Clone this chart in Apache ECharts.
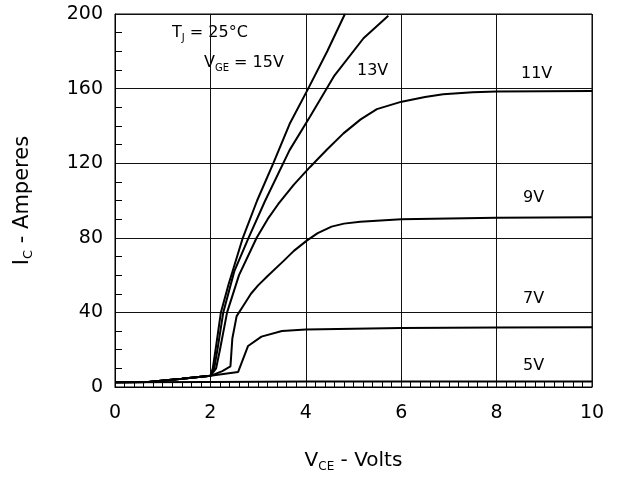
<!DOCTYPE html>
<html><head><meta charset="utf-8">
<script src="https://cdn.jsdelivr.net/npm/echarts@6/dist/echarts.min.js"></script>
<style>html,body{margin:0;padding:0;background:#fff}#c{width:620px;height:482px}</style>
</head><body><div id="c"></div>
<script>
// ---- data (V_CE in volts, I_C in amperes) ----
const xMin = 0, xMax = 10, xStep = 2;
const yMin = 0, yMax = 200, yStep = 40;
const vge5  = [[0,2.5],[2,2.7],[4,2.9],[10,3]];
const vge7  = [[0,2.5],[0.7,2.7],[1.4,4.4],[2,6],[2.58,8],[2.79,22],[3.07,27],[3.5,30],[4,30.8],[5,31.3],[6,31.6],[8,31.9],[10,32]];
const vge9  = [[0,2.5],[0.7,2.7],[1.4,4.4],[2,6],[2.25,8.5],[2.42,11],[2.46,26],[2.55,38],[2.7,44],[2.85,50],[3.0,54.5],[3.2,59.5],[3.53,67.5],[3.75,73],[4.02,78.5],[4.25,82.5],[4.54,86],[4.8,87.6],[5.14,88.6],[6,90],[8,90.7],[10,91]];
const vge11 = [[0,2.5],[0.7,2.7],[1.4,4.4],[2,6],[2.12,10],[2.2,20],[2.35,40],[2.6,60],[2.97,80],[3.2,90],[3.42,98],[3.75,108.5],[4.09,118],[4.45,127.5],[4.79,136],[5.15,143.5],[5.49,149],[6.01,153],[6.5,155.5],[6.88,157],[7.5,158],[8,158.5],[10,158.7]];
const vge13 = [[0,2.5],[0.7,2.7],[1.4,4.4],[2,6],[2.08,10],[2.16,22],[2.27,40],[2.5,62],[2.8,80],[3.15,100],[3.66,127],[4.09,145],[4.6,167],[5.21,187],[5.73,199]];
const vge15 = [[0,2.5],[0.7,2.7],[1.4,4.4],[2,6],[2.05,10],[2.12,22],[2.22,40],[2.38,55],[2.68,80],[2.98,100],[3.32,120],[3.66,141],[4.05,160],[4.45,180],[4.82,200]];
const curves = [vge5, vge7, vge9, vge11, vge13, vge15];
const curveLabels = ['13V','11V','9V','7V','5V'];

const FONT = 'DejaVu Sans, Liberation Sans, Arial, sans-serif';
const chart = echarts.init(document.getElementById('c'), null, {renderer:'canvas'});

function axisBase(min, max, step, minorSplit, minorLen) {
  return {
    type:'value', min:min, max:max, interval:step,
    axisLine:{show:true, onZero:false, lineStyle:{color:'#000', width:1}},
    axisTick:{show:false, inside:true},
    minorTick:{show:true, splitNumber:minorSplit, length:minorLen, lineStyle:{color:'#000', width:1}},
    splitLine:{show:true, lineStyle:{color:'#111', width:1}},
    axisLabel:{color:'#000', fontSize:19, fontFamily:FONT},
    nameTextStyle:{color:'#000', fontFamily:FONT, fontSize:19}
  };
}
const xAxis = axisBase(xMin, xMax, xStep, 10, 5);
xAxis.axisLabel.margin = 17;
xAxis.name = '{m|V}{s|CE}{m| - Volts}';
xAxis.nameLocation = 'middle';
xAxis.nameGap = 62;
xAxis.nameTextStyle.rich = {
  m:{fontSize:20, fontFamily:FONT, color:'#000', lineHeight:24, verticalAlign:'middle'},
  s:{fontSize:12, fontFamily:FONT, color:'#000', lineHeight:24, verticalAlign:'bottom'}
};
const yAxis = axisBase(yMin, yMax, yStep, 4, 7);
yAxis.axisLabel.margin = 12;
yAxis.name = '{m|I}{s|C}{m| - Amperes}';
yAxis.nameLocation = 'middle';
yAxis.nameGap = 80;
yAxis.nameRotate = 90;
yAxis.nameTextStyle.rich = {
  m:{fontSize:21, fontFamily:FONT, color:'#000', lineHeight:24, verticalAlign:'middle'},
  s:{fontSize:13, fontFamily:FONT, color:'#000', lineHeight:24, verticalAlign:'bottom'}
};

const labelPos = [[357,71],[521,74],[523,198],[523,299],[523,366]];
const graphics = curveLabels.map((t,i)=>({
  type:'text', x:labelPos[i][0], y:labelPos[i][1], silent:true,
  style:{text:t, fill:'#000', fontSize:16, fontFamily:FONT, verticalAlign:'middle', align:'left'}
}));
const richAnn = {
  m:{fontSize:16, fontFamily:FONT, fill:'#000', lineHeight:20, verticalAlign:'middle'},
  s:{fontSize:10, fontFamily:FONT, fill:'#000', lineHeight:20, verticalAlign:'bottom'}
};
graphics.push({type:'text', x:172, y:33, silent:true,
  style:{text:'{m|T}{s|J}{m| = 25°C}', rich:richAnn, verticalAlign:'middle', align:'left'}});
graphics.push({type:'text', x:204, y:63, silent:true,
  style:{text:'{m|V}{s|GE}{m| = 15V}', rich:richAnn, verticalAlign:'middle', align:'left'}});

chart.setOption({
  animation:false,
  backgroundColor:'#fff',
  grid:{left:115, right:28, top:14, bottom:95, show:true, borderColor:'#000', borderWidth:1, backgroundColor:'transparent'},
  xAxis: xAxis,
  yAxis: yAxis,
  series: curves.map(d=>({
    type:'line', data:d, showSymbol:false, symbol:'none', silent:true, smooth:false,
    lineStyle:{color:'#000', width:2}, clip:true
  })),
  graphic: graphics
});
</script></body></html>
